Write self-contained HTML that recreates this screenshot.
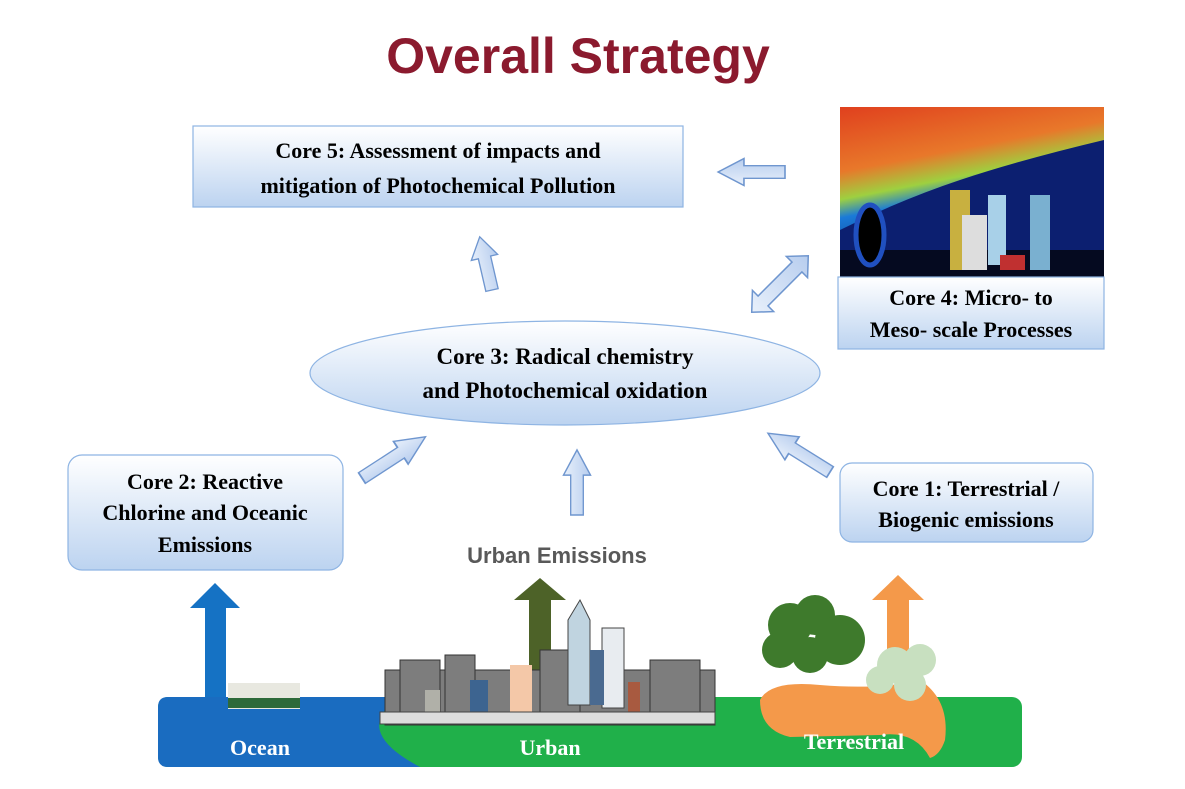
<!DOCTYPE html>
<html><head><style>
body{margin:0;background:#fff;}
svg{display:block;font-family:"Liberation Serif",serif;}
</style></head><body>
<svg width="1185" height="789" viewBox="0 0 1185 789" xmlns="http://www.w3.org/2000/svg">
<defs>
<linearGradient id="bx" x1="0" y1="0" x2="0" y2="1"><stop offset="0" stop-color="#ffffff"/><stop offset="1" stop-color="#bcd3f0"/></linearGradient>
<linearGradient id="ar" x1="0" y1="0" x2="1" y2="0"><stop offset="0" stop-color="#e8f0fb"/><stop offset="1" stop-color="#b7cdee"/></linearGradient>
<linearGradient id="sky" x1="0" y1="0" x2="0.3" y2="1"><stop offset="0" stop-color="#e0401e"/><stop offset="0.35" stop-color="#e8782a"/><stop offset="0.5" stop-color="#9ed040"/><stop offset="0.6" stop-color="#1a7ad8"/><stop offset="1" stop-color="#0a1d60"/></linearGradient>
<g id="arr"><polygon points="-7,0 7,0 7,-38 15,-38 0,-62 -15,-38 -7,-38" fill="url(#ar)" stroke="#6f96cf" stroke-width="1.5"/></g>
</defs>
<text x="578" y="73" text-anchor="middle" font-family="Liberation Sans,sans-serif" font-weight="bold" font-size="50" fill="#8b1a2e">Overall Strategy</text>

<rect x="193" y="126" width="490" height="81" fill="url(#bx)" stroke="#8eb4e3" stroke-width="1.2"/>
<text x="438" y="158" text-anchor="middle" font-weight="bold" font-size="22">Core 5: Assessment of impacts and</text>
<text x="438" y="193" text-anchor="middle" font-weight="bold" font-size="22">mitigation of Photochemical Pollution</text>

<rect x="840" y="107" width="264" height="170" fill="url(#sky)"/>
<path d="M840 230 Q900 200 960 180 T1104 140 L1104 277 L840 277Z" fill="#0c1f70"/>
<path d="M840 250 L1104 250 L1104 277 L840 277Z" fill="#050a20"/>
<ellipse cx="870" cy="235" rx="14" ry="30" fill="#000" stroke="#2050c0" stroke-width="5"/>
<rect x="950" y="190" width="20" height="80" fill="#c8b040"/>
<rect x="988" y="195" width="18" height="70" fill="#a8d0e8"/>
<rect x="1030" y="195" width="20" height="75" fill="#7ab0d0"/>
<rect x="962" y="215" width="25" height="55" fill="#ddd"/>
<rect x="1000" y="255" width="25" height="15" fill="#c03030"/>
<rect x="838" y="277" width="266" height="72" fill="url(#bx)" stroke="#8eb4e3" stroke-width="1.2"/>
<text x="971" y="305" text-anchor="middle" font-weight="bold" font-size="22">Core 4: Micro- to</text>
<text x="971" y="337" text-anchor="middle" font-weight="bold" font-size="22">Meso- scale Processes</text>

<ellipse cx="565" cy="373" rx="255" ry="52" fill="url(#bx)" stroke="#8eb4e3" stroke-width="1.2"/>
<text x="565" y="364" text-anchor="middle" font-weight="bold" font-size="23">Core 3: Radical chemistry</text>
<text x="565" y="398" text-anchor="middle" font-weight="bold" font-size="23">and Photochemical oxidation</text>

<rect x="68" y="455" width="275" height="115" rx="14" fill="url(#bx)" stroke="#8eb4e3" stroke-width="1.2"/>
<text x="205" y="489" text-anchor="middle" font-weight="bold" font-size="22">Core 2: Reactive</text>
<text x="205" y="520" text-anchor="middle" font-weight="bold" font-size="22">Chlorine and Oceanic</text>
<text x="205" y="552" text-anchor="middle" font-weight="bold" font-size="22">Emissions</text>

<rect x="840" y="463" width="253" height="79" rx="12" fill="url(#bx)" stroke="#8eb4e3" stroke-width="1.2"/>
<text x="966" y="496" text-anchor="middle" font-weight="bold" font-size="22">Core 1: Terrestrial /</text>
<text x="966" y="527" text-anchor="middle" font-weight="bold" font-size="22">Biogenic emissions</text>

<use href="#arr" transform="translate(785,172) rotate(-90) scale(0.9,1.08)"/>
<use href="#arr" transform="translate(492,290) rotate(-13) scale(0.9,0.88)"/>
<use href="#arr" transform="translate(362,478) rotate(57) scale(0.9,1.22)"/>
<use href="#arr" transform="translate(577,515) scale(0.9,1.05)"/>
<use href="#arr" transform="translate(830,472) rotate(-58) scale(0.9,1.18)"/>
<polygon points="-40,0 -24,-15 -24,-7 24,-7 24,-15 40,0 24,15 24,7 -24,7 -24,15" transform="translate(780,284) rotate(-45)" fill="url(#ar)" stroke="#6f96cf" stroke-width="1.5"/>

<text x="557" y="563" text-anchor="middle" font-family="Liberation Sans,sans-serif" font-weight="bold" font-size="22" fill="#595959">Urban Emissions</text>

<rect x="158" y="697" width="864" height="70" rx="10" fill="#20b04a"/>
<path d="M168 697 L400 697 Q350 730 420 767 L168 767 Q158 767 158 757 L158 707 Q158 697 168 697Z" fill="#1a6cc0"/>

<polygon points="205,697 205,608 190,608 215,583 240,608 226,608 226,697" fill="#1572c4"/>
<polygon points="529,690 529,600 514,600 540,578 566,600 551,600 551,690" fill="#4d6228"/>
<polygon points="887,660 887,600 872,600 898,575 924,600 909,600 909,660" fill="#f4994a"/>

<rect x="228" y="683" width="72" height="26" fill="#e8e8e0"/>
<rect x="228" y="698" width="72" height="10" fill="#2e6a3a"/>
<g fill="#7d7d7d" stroke="#333" stroke-width="1">
<rect x="385" y="670" width="330" height="55"/>
<rect x="400" y="660" width="40" height="60"/>
<rect x="445" y="655" width="30" height="60"/>
<rect x="540" y="650" width="40" height="70"/>
<rect x="650" y="660" width="50" height="60"/>
</g>
<rect x="425" y="690" width="15" height="30" fill="#b0b0a8"/>
<rect x="470" y="680" width="18" height="40" fill="#3d6490"/>
<rect x="510" y="665" width="22" height="55" fill="#f4c8a8"/>
<polygon points="568,620 580,600 590,620 590,705 568,705" fill="#c0d4e0" stroke="#444"/>
<rect x="602" y="628" width="22" height="80" fill="#e8ecf0" stroke="#444"/>
<rect x="590" y="650" width="14" height="55" fill="#4a6a90"/>
<rect x="628" y="682" width="12" height="30" fill="#a85a40"/>
<rect x="380" y="712" width="335" height="12" fill="#ddd" stroke="#444"/>

<path d="M760 700 Q770 680 820 685 Q880 690 920 680 Q950 700 945 740 Q940 755 930 758 Q915 730 880 735 L790 737 Q760 730 760 700Z" fill="#f4994a"/>
<g fill="#3e7a2c"><circle cx="790" cy="625" r="22"/><circle cx="815" cy="615" r="20"/><circle cx="840" cy="640" r="25"/><circle cx="780" cy="650" r="18"/><circle cx="810" cy="655" r="18"/></g>
<g fill="#c8e0c0"><circle cx="895" cy="665" r="18"/><circle cx="920" cy="660" r="16"/><circle cx="880" cy="680" r="14"/><circle cx="910" cy="685" r="16"/></g>

<g fill="#fff" font-weight="bold" font-size="22" text-anchor="middle">
<text x="260" y="755">Ocean</text>
<text x="550" y="755">Urban</text>
<text x="854" y="749">Terrestrial</text>
</g>
</svg>
</body></html>
